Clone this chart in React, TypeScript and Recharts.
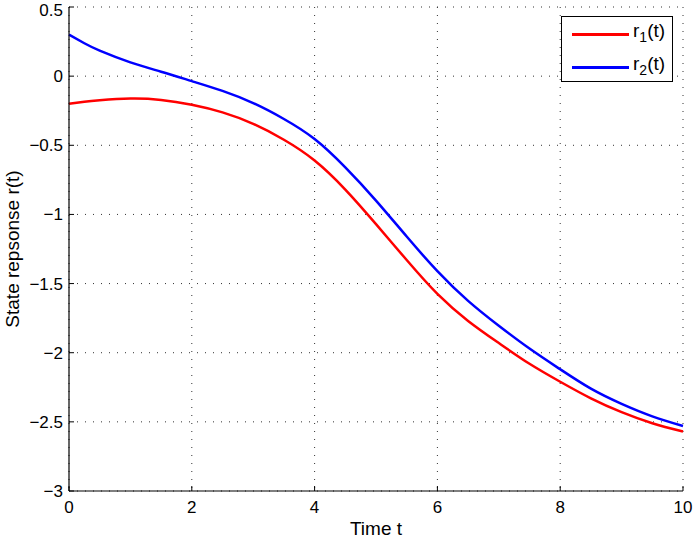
import React from 'react';
import { LineChart, Line, XAxis, YAxis, CartesianGrid } from 'recharts';

const times = [0, 0.25, 0.5, 1, 1.5, 2, 2.5, 3, 3.5, 4, 4.5, 5, 5.5, 6, 6.5, 7, 7.5, 8, 8.5, 9, 9.5, 10];
const r1 = [-0.2, -0.185, -0.174, -0.162, -0.172, -0.207, -0.262, -0.345, -0.46, -0.61, -0.82, -1.07, -1.33, -1.575, -1.77, -1.93, -2.08, -2.21, -2.33, -2.43, -2.51, -2.57];
const r2 = [0.3, 0.238, 0.185, 0.1, 0.032, -0.036, -0.107, -0.195, -0.31, -0.455, -0.66, -0.9, -1.16, -1.41, -1.625, -1.805, -1.97, -2.12, -2.26, -2.37, -2.46, -2.53];
const xTicks = [0, 2, 4, 6, 8, 10];
const yTicks = [-3, -2.5, -2, -1.5, -1, -0.5, 0, 0.5];

const data = times.map((t, i) => ({ t, r1: r1[i], r2: r2[i] }));

const fmt = (v: number) => (v < 0 ? '\u2212' + String(Math.abs(v)) : String(v));

const FONT = '"Liberation Sans", Arial, Helvetica, sans-serif';

const legendItems = [
  { c: '#ff0000', s: '1', top: 17 },
  { c: '#0000ff', s: '2', top: 50 },
];

export default function App() {
  return (
    <div style={{ position: 'absolute', left: 0, top: 0, width: 693, height: 538, background: '#fff' }}>
      <LineChart width={693} height={538} data={data} margin={{ top: 7, right: 10, left: 0, bottom: 0 }}>
        <CartesianGrid xAxisId="b" yAxisId="l" stroke="#333" strokeDasharray="1 7" strokeWidth={1} />
        <XAxis
          xAxisId="b"
          dataKey="t"
          type="number"
          domain={[0, 10]}
          ticks={xTicks}
          height={47}
          tickSize={-5}
          tickMargin={15}
          axisLine={{ stroke: '#000', strokeWidth: 1.2 }}
          tickLine={{ stroke: '#000' }}
          tick={{ fill: '#000', fontSize: 17, fontFamily: FONT }}
          label={{ value: 'Time t', position: 'insideBottom', offset: 3, fill: '#000', fontSize: 19, fontFamily: FONT }}
        />
        <XAxis
          xAxisId="top"
          orientation="top"
          dataKey="t"
          type="number"
          domain={[0, 10]}
          ticks={xTicks}
          height={0}
          tickSize={-5}
          axisLine={{ stroke: '#000', strokeWidth: 1.2 }}
          tickLine={{ stroke: '#000' }}
          tick={{ fill: 'none', fontSize: 1 }}
        />
        <YAxis
          yAxisId="l"
          type="number"
          domain={[-3, 0.5]}
          ticks={yTicks}
          width={69}
          tickSize={-5}
          tickMargin={11}
          tickFormatter={fmt}
          axisLine={{ stroke: '#000', strokeWidth: 1.2 }}
          tickLine={{ stroke: '#000' }}
          tick={{ fill: '#000', fontSize: 17, fontFamily: FONT }}
          label={{ value: 'State repsonse r(t)', angle: -90, position: 'insideLeft', offset: 12, fill: '#000', fontSize: 19, fontFamily: FONT, style: { textAnchor: 'middle' } }}
        />
        <YAxis
          yAxisId="r"
          orientation="right"
          type="number"
          domain={[-3, 0.5]}
          ticks={yTicks}
          width={0}
          tickSize={-5}
          axisLine={{ stroke: '#000', strokeWidth: 1.2 }}
          tickLine={{ stroke: '#000' }}
          tick={{ fill: 'none', fontSize: 1 }}
        />
        <Line xAxisId="b" yAxisId="l" type="natural" dataKey="r1" stroke="#ff0000" strokeWidth={2.5} dot={false} isAnimationActive={false} />
        <Line xAxisId="b" yAxisId="l" type="natural" dataKey="r2" stroke="#0000ff" strokeWidth={2.5} dot={false} isAnimationActive={false} />
      </LineChart>
      <div
        style={{
          position: 'absolute',
          left: 561,
          top: 16,
          width: 112,
          height: 66,
          border: '1px solid #000',
          background: '#fff',
          fontFamily: FONT,
          fontSize: 19,
          boxSizing: 'border-box',
        }}
      >
        {legendItems.map((e) => (
          <div key={e.s}>
            <div style={{ position: 'absolute', left: 10, top: e.top - 1, width: 57, height: 3, background: e.c }} />
            <div style={{ position: 'absolute', left: 71, top: e.top - 13, lineHeight: '20px', whiteSpace: 'nowrap' }}>
              r<sub style={{ fontSize: 14, verticalAlign: -5, lineHeight: 0 }}>{e.s}</sub>(t)
            </div>
          </div>
        ))}
      </div>
    </div>
  );
}
